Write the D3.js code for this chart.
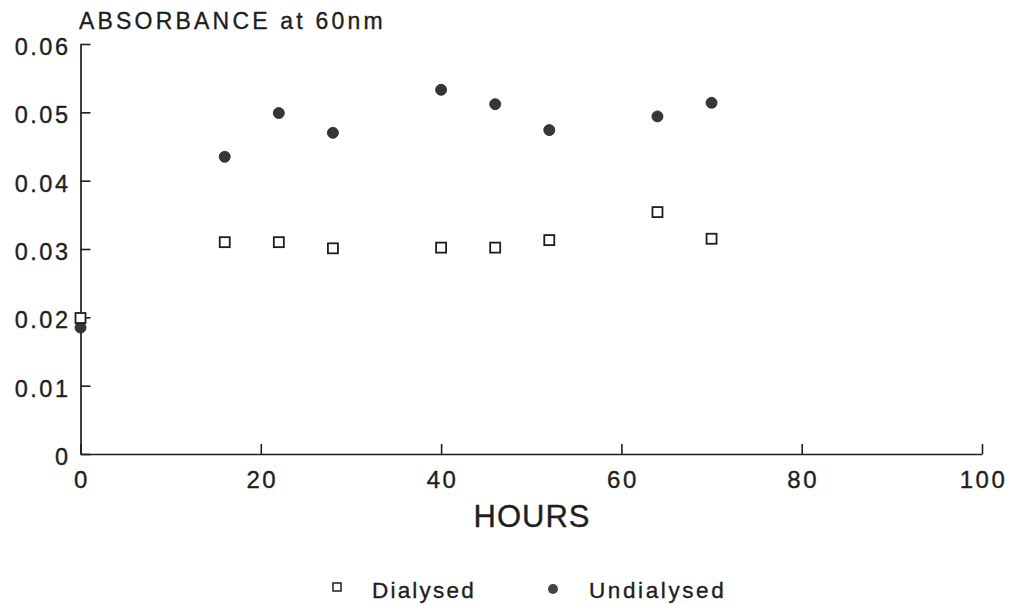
<!DOCTYPE html>
<html>
<head>
<meta charset="utf-8">
<script src="https://cdn.jsdelivr.net/npm/d3@7"></script>
<style>
  html, body { margin: 0; padding: 0; background: #fff; }
  svg { display: block; font-family: "Liberation Sans", Arial, Helvetica, sans-serif; }
  text { stroke: #1e1e1e; stroke-width: 0.35px; }
</style>
</head>
<body>
<svg id="chart" width="1014" height="606"></svg>
<script>
// ---- Data ----
const hours = [0, 16, 22, 28, 40, 46, 52, 64, 70];
const dialysed = [0.0199, 0.0310, 0.0310, 0.0301, 0.0302, 0.0302, 0.0313, 0.0354, 0.0315];
const undialysed = [0.0185, 0.0435, 0.0499, 0.0470, 0.0533, 0.0512, 0.0474, 0.0494, 0.0514];
const xTicks = [0, 20, 40, 60, 80, 100];
const xTickLabels = ["0", "20", "40", "60", "80", "100"];
const yTicks = [0, 0.01, 0.02, 0.03, 0.04, 0.05, 0.06];
const yTickLabels = ["0", "0.01", "0.02", "0.03", "0.04", "0.05", "0.06"];
const seriesNames = ["Dialysed", "Undialysed"];
const titleText = "ABSORBANCE at 60nm";
const xTitle = "HOURS";

// ---- Layout ----
const svg = d3.select("#chart");
const x = d3.scaleLinear().domain([0, 100]).range([80.5, 982]);
const y = d3.scaleLinear().domain([0, 0.06]).range([454, 44]);
const ink = "#1e1e1e";

// Y axis
const yAxis = d3.axisLeft(y)
  .tickValues(yTicks)
  .tickFormat((d, i) => yTickLabels[i])
  .tickSize(-10)
  .tickSizeOuter(0)
  .tickPadding(10);
const gy = svg.append("g").attr("transform", "translate(80.5,0)").call(yAxis);
gy.select(".domain").attr("stroke", ink).attr("stroke-width", 1.7);
gy.selectAll(".tick line").attr("stroke", ink).attr("stroke-width", 1.6);
gy.selectAll(".tick text")
  .attr("fill", ink)
  .style("font-size", "23.5px")
  .style("letter-spacing", "2.5px")
  .attr("dy", "0.45em");

// X axis
const xAxis = d3.axisBottom(x)
  .tickValues(xTicks)
  .tickFormat((d, i) => xTickLabels[i])
  .tickSize(-10)
  .tickSizeOuter(0)
  .tickPadding(17);
const gx = svg.append("g").attr("transform", "translate(0,454)").call(xAxis);
gx.select(".domain").attr("stroke", ink).attr("stroke-width", 1.7);
gx.selectAll(".tick line").attr("stroke", ink).attr("stroke-width", 1.6);
gx.selectAll(".tick text")
  .attr("fill", ink)
  .style("font-size", "24px")
  .style("letter-spacing", "2.5px")
  .attr("dx", "1px");

// Titles
svg.append("text")
  .attr("x", 79).attr("y", 29)
  .attr("fill", ink)
  .style("font-size", "23px")
  .style("letter-spacing", "3.2px")
  .text(titleText);

svg.append("text")
  .attr("x", 532).attr("y", 527)
  .attr("text-anchor", "middle")
  .attr("fill", ink)
  .style("font-size", "31px")
  .style("letter-spacing", "1px")
  .text(xTitle);

// Points: undialysed (filled circles) first
const pts = hours.map((h, i) => ({ h, d: dialysed[i], u: undialysed[i] }));
svg.append("g").selectAll("circle")
  .data(pts).join("circle")
  .attr("cx", d => x(d.h))
  .attr("cy", d => y(d.u))
  .attr("r", 5.5)
  .attr("fill", "#363636")
  .attr("stroke", "#222")
  .attr("stroke-width", 0.8);

// dialysed (open squares)
const s = 10;
svg.append("g").selectAll("rect")
  .data(pts).join("rect")
  .attr("x", d => x(d.h) - s / 2)
  .attr("y", d => y(d.d) - s / 2)
  .attr("width", s).attr("height", s)
  .attr("fill", "#fff")
  .attr("stroke", ink)
  .attr("stroke-width", 1.8);

// Legend
const leg = svg.append("g");
leg.append("rect")
  .attr("x", 333).attr("y", 583).attr("width", 8).attr("height", 8)
  .attr("fill", "#fff").attr("stroke", ink).attr("stroke-width", 1.5);
leg.append("text")
  .attr("x", 372).attr("y", 598)
  .attr("fill", ink)
  .style("font-size", "22.5px")
  .style("letter-spacing", "2.2px")
  .text(seriesNames[0]);
leg.append("circle")
  .attr("cx", 553).attr("cy", 589).attr("r", 5)
  .attr("fill", "#444");
leg.append("text")
  .attr("x", 589).attr("y", 598)
  .attr("fill", ink)
  .style("font-size", "22.5px")
  .style("letter-spacing", "2.6px")
  .text(seriesNames[1]);
</script>
</body>
</html>
